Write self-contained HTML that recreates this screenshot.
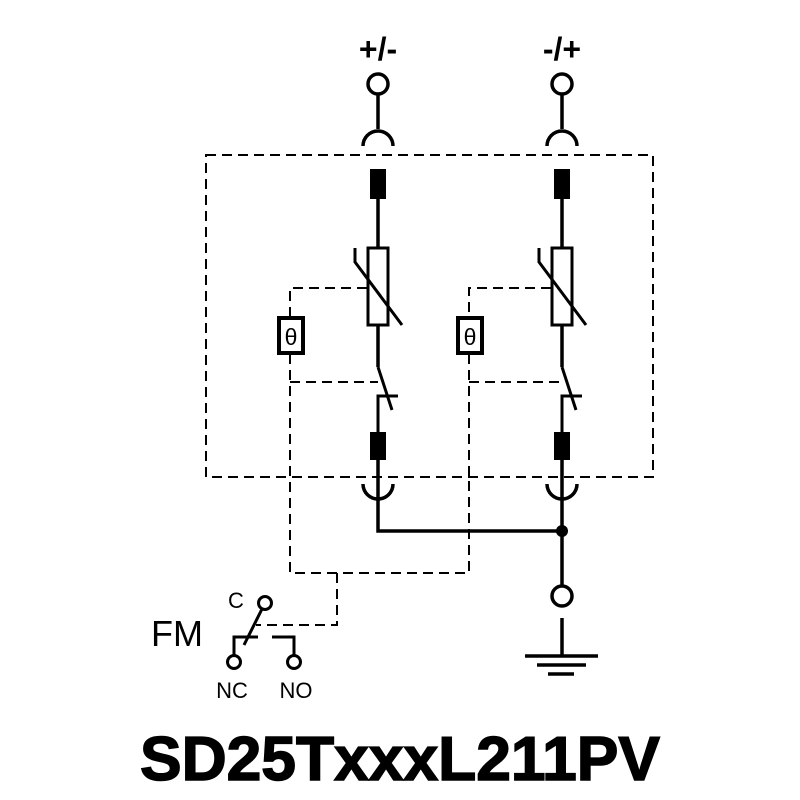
<!DOCTYPE html>
<html><head><style>body{margin:0;background:#fff}svg{display:block}</style></head><body>
<svg width="800" height="800" viewBox="0 0 800 800" xmlns="http://www.w3.org/2000/svg" font-family="Liberation Sans, sans-serif">
<g fill="none" stroke="#000" stroke-width="2" stroke-dasharray="10,6">
<rect x="206" y="155" width="447" height="322"/>
<polyline points="367,288 290,288 290,316"/>
<polyline points="290,354 290,573 469,573 469,477"/>
<line x1="290" y1="382" x2="378" y2="382"/>
<polyline points="551,288 469,288 469,316"/>
<polyline points="469,354 469,477"/>
<line x1="469" y1="382" x2="562" y2="382"/>
<polyline points="337,573 337,625 256,625"/>
</g>
<g fill="none" stroke="#000" stroke-width="3.5">
<g id="col">
<circle cx="378" cy="84" r="10"/>
<line x1="378" y1="94" x2="378" y2="129"/>
<path d="M363,146 A15,15 0 0 1 393,146"/>
<line x1="378" y1="199" x2="378" y2="248"/>
<rect x="368" y="248" width="20" height="77" stroke-width="3"/>
<polyline points="355,248 355,262 402,325" stroke-width="3"/>
<line x1="378" y1="325" x2="378" y2="367"/>
<line x1="378" y1="367" x2="392" y2="410" stroke-width="3"/>
<polyline points="378,432 378,396 398,396" stroke-width="3"/>
<line x1="378" y1="460" x2="378" y2="500"/>
<path d="M363,484 A15,15 0 0 0 393,484"/>
</g>
<use href="#col" transform="translate(184,0)"/>
<polyline points="378,500 378,531 562,531"/>
<line x1="562" y1="500" x2="562" y2="586"/>
<circle cx="562" cy="596" r="10"/>
<line x1="562" y1="618" x2="562" y2="656"/>
<line x1="525" y1="656" x2="598" y2="656"/>
<line x1="537" y1="665" x2="586" y2="665"/>
<line x1="548" y1="674" x2="574" y2="674"/>
<rect x="279" y="318" width="24" height="35" stroke-width="4"/>
<rect x="458" y="318" width="24" height="35" stroke-width="4"/>
<circle cx="265" cy="603" r="6.5" stroke-width="3"/>
<line x1="262" y1="609" x2="244" y2="645" stroke-width="3"/>
<polyline points="258,637 234,637 234,655" stroke-width="3"/>
<polyline points="272,637 294,637 294,655" stroke-width="3"/>
<circle cx="234" cy="662" r="6.5" stroke-width="3"/>
<circle cx="294" cy="662" r="6.5" stroke-width="3"/>
</g>
<g fill="#000">
<rect x="370" y="169" width="16" height="30"/>
<rect x="554" y="169" width="16" height="30"/>
<rect x="370" y="432" width="16" height="28"/>
<rect x="554" y="432" width="16" height="28"/>
<circle cx="562" cy="531" r="6"/>
</g>
<g fill="#000" text-anchor="middle">
<text x="378" y="60" font-size="32" font-weight="bold">+/-</text>
<text x="562" y="60" font-size="32" font-weight="bold">-/+</text>
<text x="291" y="345" font-size="23">θ</text>
<text x="470" y="345" font-size="23">θ</text>
<text x="177" y="646" font-size="36">FM</text>
<text x="236" y="608" font-size="22">C</text>
<text x="232" y="698" font-size="22">NC</text>
<text x="296" y="698" font-size="22">NO</text>
<text x="400" y="780" font-size="62" font-weight="bold" textLength="520" lengthAdjust="spacingAndGlyphs" stroke="#000" stroke-width="1.5">SD25TxxxL211PV</text>
</g>
</svg>
</body></html>
